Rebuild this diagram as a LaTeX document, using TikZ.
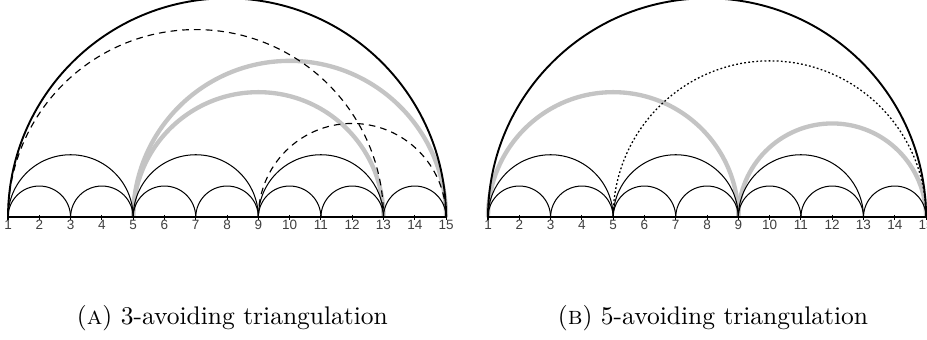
\documentclass[tikz,border=0pt]{standalone}
\usepackage{fontspec}
\newfontfamily\lblfont{Liberation Sans}
\usetikzlibrary{calc}
\newcommand{\harc}[3][]{\draw[#1] let \p1=(#2), \p2=(#3) in (\p1) arc[start angle=180,end angle=0,radius={0.5*(\x2-\x1)}];}

\begin{document}
\begin{tikzpicture}[x=0.4314cm,y=0.4314cm,
  edge/.style={line width=0.4pt},
  outer/.style={line width=0.75pt},
  base/.style={line width=0.8pt},
  tick/.style={line width=0.4pt},
  flip/.style={line width=1.7pt,draw=black!23},
  old/.style={line width=0.45pt,dash pattern=on 2.6pt off 2pt},
  new/.style={line width=0.5pt,dash pattern=on 0.7pt off 0.9pt},
  num/.style={font=\lblfont\fontsize{5.3}{6}\selectfont,text=black!75,inner sep=1pt,below},
  subcap/.style={anchor=base,font=\normalsize}]
\useasboundingbox (-0.256,-3.89) rectangle (29.37,6.945);
% points on the two base lines
\foreach \i in {1,...,15}{
  \coordinate (L\i) at (\i-1,0);
  \coordinate (R\i) at (\i+14.34,0);
}
% flipped diagonals
\harc[flip]{L5}{L13} \harc[flip]{L5}{L15}
\harc[flip]{R1}{R9} \harc[flip]{R9}{R15}
% fixed part of both triangulations
\foreach \a/\b in {1/3,3/5,5/7,7/9,9/11,11/13,13/15,1/5,5/9,9/13}{
  \harc[edge]{L\a}{L\b}
  \harc[edge]{R\a}{R\b}
}
\harc[outer]{L1}{L15} \harc[outer]{R1}{R15}
% removed diagonals
\harc[old]{L1}{L13} \harc[old]{L9}{L15}
\harc[new]{R5}{R15}
% base lines, ticks and numbers
\draw[base] (L1) -- (L15); \draw[base] (R1) -- (R15);
\foreach \i in {1,...,15}{
  \draw[tick] (L\i) ++(0,0.08) -- ++(0,-0.16);
  \draw[tick] (R\i) ++(0,0.08) -- ++(0,-0.16);
  \node[num] (nL\i) at (L\i) {\i};
  \node[num] (nR\i) at (R\i) {\i};
}
\node[subcap] (capA) at (7.17,-3.44) {(\textsc{a}) 3-avoiding triangulation};
\node[subcap] (capB) at (22.53,-3.44) {(\textsc{b}) 5-avoiding triangulation};
\end{tikzpicture}
\end{document}
